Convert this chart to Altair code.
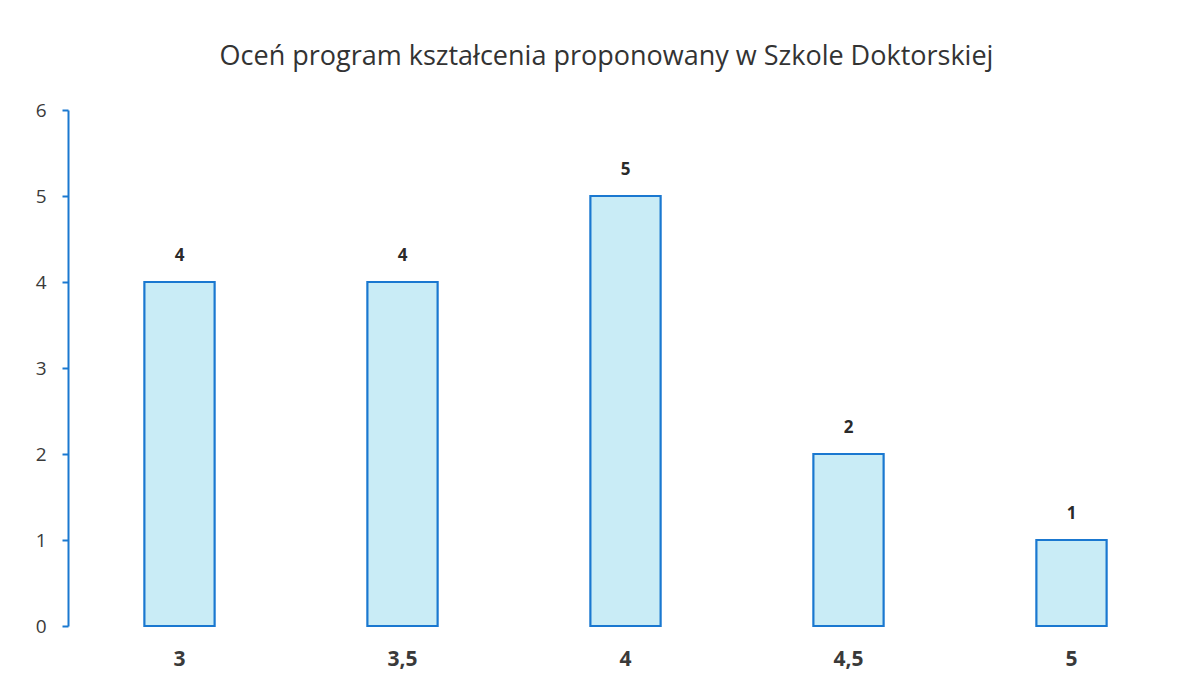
import altair as alt
import pandas as pd

categories = ["3", "3,5", "4", "4,5", "5"]
counts = [4, 4, 5, 2, 1]
y_ticks = [0, 1, 2, 3, 4, 5, 6]
title_text = "Oceń program kształcenia proponowany w Szkole Doktorskiej"

df = pd.DataFrame({"ocena": categories, "liczba": counts})

base = alt.Chart(df)

bars = base.mark_bar(
    fill="#c9ecf6", stroke="#1a78d0", strokeWidth=2.2
).encode(
    x=alt.X("ocena:N", sort=categories, title=None,
            scale=alt.Scale(paddingInner=0.685, paddingOuter=0.3425),
            axis=alt.Axis(labelAngle=0, domain=False, ticks=False, labelFont="Open Sans",
                          labelFontWeight="bold", labelFontSize=21, labelColor="#3a3a3a",
                          labelPadding=22)),
    y=alt.Y("liczba:Q", title=None,
            scale=alt.Scale(domain=[0, 6], nice=False),
            axis=alt.Axis(values=y_ticks, format="d", grid=False, domainColor="#1a78d0",
                          domainWidth=2, tickColor="#1a78d0", tickWidth=2, tickSize=6,
                          labelFont="Open Sans", labelFontSize=19, labelColor="#3a3a3a",
                          labelPadding=16)),
)

labels = base.mark_text(
    font="Open Sans", fontWeight="bold", fontSize=17, color="#2a2a2a",
    baseline="bottom", dy=-17
).encode(
    x=alt.X("ocena:N", sort=categories),
    y=alt.Y("liczba:Q"),
    text=alt.Text("liczba:Q"),
)

chart = (bars + labels).properties(
    width=1115, height=516,
    autosize=alt.AutoSizeParams(type="none"),
    padding={"left": 60, "top": 102, "right": 2, "bottom": 57},
    title=alt.TitleParams(title_text, font="Open Sans", fontSize=27, fontWeight="normal",
                          color="#333333", offset=30, dx=-19, anchor="middle"),
    background="white",
).configure_view(stroke=None)

chart.save("out.html", embed_options={"renderer": "svg", "actions": False})
